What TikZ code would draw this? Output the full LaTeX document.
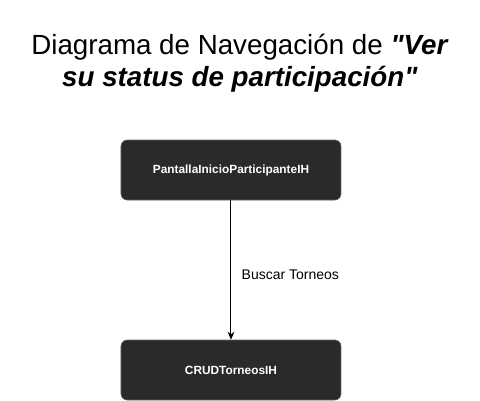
\documentclass[tikz,border=0pt]{standalone}
\usepackage{fontspec}
\setmainfont{Liberation Sans}[Ligatures=TeXOff]
\usetikzlibrary{arrows.meta}
\definecolor{pantalla}{HTML}{2A2A2A}
\tikzset{
    screen/.style={draw=black!60, fill=pantalla, rounded corners=4.5pt, minimum width=165pt, minimum height=45pt, text=white, font=\fontsize{8.9}{10}\selectfont\bfseries},
    flecha/.style={-{Stealth[length=6pt,width=5pt]}, line width=0.75pt}
}
\begin{document}
\begin{tikzpicture}[x=0.75pt,y=-0.75pt]
    \useasboundingbox (0,0) rectangle (480,401);
    \node[align=center, font=\fontsize{20.8}{24}\selectfont] (titulo) at (240,63) {Diagrama de Navegación de \textbf{\textit{"Ver}}\\\textbf{\textit{su status de participación"}}};
    \node[screen] (inicio) at (231,170) {PantallaInicioParticipanteIH};
    \node[screen] (crud) at (231,370) {CRUDTorneosIH};
    \draw[flecha] (inicio) -- (crud);
    \node[anchor=west, font=\fontsize{10.5}{12}\selectfont] (buscar) at (237,275) {Buscar Torneos};
\end{tikzpicture}
\end{document}
